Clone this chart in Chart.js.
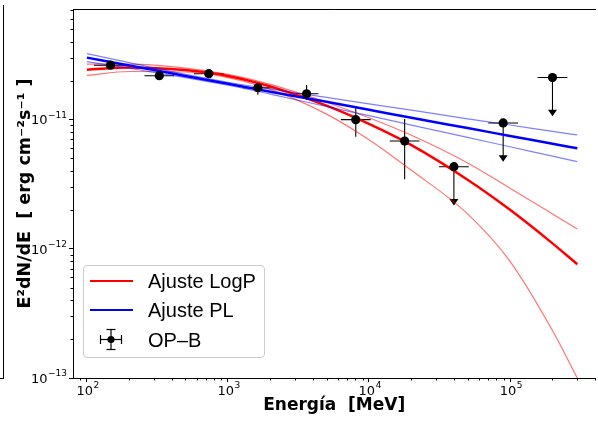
<!DOCTYPE html>
<html>
<head>
<meta charset="utf-8">
<script src="https://cdn.jsdelivr.net/npm/chart.js@4.4.1/dist/chart.umd.min.js"></script>
<style>
  html, body { margin: 0; padding: 0; background: #fff; overflow: hidden; }
  #wrap { position: relative; width: 598px; height: 423px; overflow: hidden; }
  #plot { position: absolute; left: 0; top: 0; }
  /* right spine of the neighbouring panel, cut off at the left edge */
  #edge { position: absolute; left: 3px; top: 5px; width: 1px; height: 374px; background: #000; }
  #edgeTick { position: absolute; left: 0; top: 378px; width: 3px; height: 1px; background: #000; }
  #legend {
    position: absolute; left: 83px; top: 265px; width: 182px; height: 93px;
    box-sizing: border-box; border: 1px solid #cccccc; border-radius: 4px;
    background: rgba(255,255,255,0.8);
    font-family: "Liberation Sans", Arial, sans-serif; font-size: 20px; color: #000;
  }
  #legend .sw { position: absolute; left: 6px; width: 43px; height: 2px; }
  #legend .lab { position: absolute; left: 64px; height: 24px; line-height: 24px; white-space: nowrap; }
  #legend svg { position: absolute; left: 12px; top: 60px; }
</style>
</head>
<body>
<div id="wrap">
  <canvas id="plot" width="600" height="423"></canvas>
  <div id="edge"></div><div id="edgeTick"></div>
  <div id="legend">
    <div class="sw" style="top:14px;background:#ff0000"></div>
    <div class="lab" style="top:3px">Ajuste LogP</div>
    <div class="sw" style="top:43px;background:#0000ff"></div>
    <div class="lab" style="top:32px">Ajuste PL</div>
    <svg width="30" height="27" viewBox="0 0 30 27">
      <g stroke="#000" stroke-width="1.2" fill="none">
        <line x1="4.5" y1="13.5" x2="25.5" y2="13.5"/>
        <line x1="4.5" y1="9" x2="4.5" y2="18"/>
        <line x1="25.5" y1="9" x2="25.5" y2="18"/>
        <line x1="15" y1="3.5" x2="15" y2="23.5"/>
        <line x1="10.5" y1="3.5" x2="19.5" y2="3.5"/>
        <line x1="10.5" y1="23.5" x2="19.5" y2="23.5"/>
      </g>
      <circle cx="15" cy="13.5" r="3.6" fill="#000"/>
    </svg>
    <div class="lab" style="top:62px">OP–B</div>
  </div>
</div>
<script>
var E_GRID   = [100, 200, 500, 1000, 2000, 5000, 1e4, 2e4, 5e4, 1e5, 2e5, 3e5];

// LogParabola fit and its band (erg cm^-2 s^-1)
var LOGP_FIT = [2.43e-11, 2.52e-11, 2.41e-11, 2.17e-11, 1.80e-11, 1.28e-11, 9.24e-12, 6.33e-12, 3.42e-12, 2.00e-12, 1.10e-12, 7.58e-13];
var LOGP_HI  = [2.68e-11, 2.68e-11, 2.50e-11, 2.23e-11, 1.87e-11, 1.36e-11, 1.03e-11, 7.54e-12, 4.61e-12, 2.94e-12, 1.86e-12, 1.42e-12];
var LOGP_LO  = [2.19e-11, 2.35e-11, 2.33e-11, 2.11e-11, 1.71e-11, 1.10e-11, 6.97e-12, 4.04e-12, 1.86e-12, 7.99e-13, 2.33e-13, 1.00e-13];

// power-law fit and its band
var PL_FIT   = [3.01e-11, 2.62e-11, 2.17e-11, 1.89e-11, 1.64e-11, 1.37e-11, 1.19e-11, 1.03e-11, 8.58e-12, 7.46e-12, 6.49e-12, 5.98e-12];
var PL_HI    = [3.23e-11, 2.75e-11, 2.23e-11, 1.94e-11, 1.72e-11, 1.48e-11, 1.32e-11, 1.18e-11, 1.01e-11, 9.06e-12, 8.08e-12, 7.59e-12];
var PL_LO    = [2.80e-11, 2.49e-11, 2.11e-11, 1.84e-11, 1.57e-11, 1.26e-11, 1.07e-11, 9.05e-12, 7.26e-12, 6.15e-12, 5.20e-12, 4.72e-12];

// OP-B spectral points
var SED_E      = [147, 326, 732, 1630, 3610, 8060, 17900, 40000, 89400, 200000];
var SED_E_LO   = [112, 256, 574, 1278, 2970, 6320, 14040, 31370, 70120, 156900];
var SED_E_HI   = [187, 416, 933, 2078, 4380, 10280, 22820, 51000, 114000, 255000];
var SED_FLUX   = [2.63e-11, 2.18e-11, 2.26e-11, 1.76e-11, 1.58e-11, 9.97e-12, 6.81e-12, 4.31e-12, 9.40e-12, 2.11e-11];
var SED_F_HI   = [2.76e-11, 2.29e-11, 2.37e-11, 1.93e-11, 1.85e-11, 1.25e-11, 1.01e-11, 4.31e-12, 9.40e-12, 2.11e-11];
var SED_F_LO   = [2.49e-11, 2.07e-11, 2.14e-11, 1.55e-11, 1.42e-11, 7.35e-12, 3.45e-12, 2.16e-12, 4.70e-12, 1.06e-11];
var SED_IS_UL  = [false, false, false, false, false, false, false, true, true, true];

var X_MIN = 79.7, X_MAX = 4.03e5;
var Y_MIN = 1e-13, Y_MAX = 7.13e-11;

function isPow10(v) {
    var l = Math.log10(v);
    return Math.abs(l - Math.round(l)) < 1e-6;
}
function isNice(v) {
    var m = v / Math.pow(10, Math.floor(Math.log10(v) + 1e-9));
    return Math.abs(m - Math.round(m)) < 1e-6;
}

function curve(vals) {
    return E_GRID.map(function(e, i) { return {x: e, y: vals[i]}; });
}

// error bars and upper-limit arrows, drawn under the curves
var sedErrors = {
    id: 'sedErrors',
    beforeDatasetsDraw: function(chart) {
        var ctx = chart.ctx, xs = chart.scales.x, ys = chart.scales.y, a = chart.chartArea;
        ctx.save();
        ctx.beginPath();
        ctx.rect(a.left, a.top, a.right - a.left, a.bottom - a.top);
        ctx.clip();
        ctx.strokeStyle = '#000';
        ctx.fillStyle = '#000';
        ctx.lineWidth = 1.1;
        for (var i = 0; i < SED_E.length; i++) {
            var px = xs.getPixelForValue(SED_E[i]);
            var py = ys.getPixelForValue(SED_FLUX[i]);
            ctx.beginPath();
            ctx.moveTo(xs.getPixelForValue(SED_E_LO[i]), py);
            ctx.lineTo(xs.getPixelForValue(SED_E_HI[i]), py);
            ctx.moveTo(px, ys.getPixelForValue(SED_F_HI[i]));
            var yEnd = ys.getPixelForValue(SED_F_LO[i]);
            ctx.lineTo(px, SED_IS_UL[i] ? yEnd - 4 : yEnd);
            ctx.stroke();
            if (SED_IS_UL[i]) {
                ctx.beginPath();
                ctx.moveTo(px - 4.5, yEnd - 6.5);
                ctx.lineTo(px + 4.5, yEnd - 6.5);
                ctx.lineTo(px, yEnd);
                ctx.closePath();
                ctx.fill();
            }
        }
        ctx.restore();
    }
};

// "10" with a raised exponent, like matplotlib's log labels
function drawPow(ctx, exp, x, y, align) {
    var base = '10', sup = String(exp).replace('-', '\u2212');
    ctx.font = '13px "DejaVu Sans"';
    var wb = ctx.measureText(base).width;
    ctx.font = '9px "DejaVu Sans"';
    var ws = ctx.measureText(sup).width;
    var total = wb + ws + 0.5;
    var left = align === 'center' ? x - total / 2 : x - total;
    ctx.textBaseline = 'middle';
    ctx.textAlign = 'left';
    ctx.font = '13px "DejaVu Sans"';
    ctx.fillText(base, left, y);
    ctx.font = '9px "DejaVu Sans"';
    ctx.fillText(sup, left + wb + 0.5, y - 5.5);
}

// short minor ticks plus the power-of-ten labels on both log axes
var logAxes = {
    id: 'logAxes',
    afterDraw: function(chart) {
        var ctx = chart.ctx, a = chart.chartArea;
        var xs = chart.scales.x, ys = chart.scales.y;
        ctx.save();
        ctx.strokeStyle = '#000';
        ctx.fillStyle = '#000';
        ctx.lineWidth = 1;
        ctx.beginPath();
        xs.ticks.forEach(function(t) {
            if (isNice(t.value) && !isPow10(t.value)) {
                var p = Math.round(xs.getPixelForValue(t.value)) + 0.5;
                ctx.moveTo(p, a.bottom);
                ctx.lineTo(p, a.bottom + 2.5);
            }
        });
        ys.ticks.forEach(function(t) {
            if (isNice(t.value) && !isPow10(t.value)) {
                var p = Math.round(ys.getPixelForValue(t.value)) + 0.5;
                ctx.moveTo(a.left, p);
                ctx.lineTo(a.left - 2.5, p);
            }
        });
        ctx.stroke();
        xs.ticks.forEach(function(t) {
            if (isPow10(t.value)) {
                drawPow(ctx, Math.round(Math.log10(t.value)), xs.getPixelForValue(t.value) + 1, a.bottom + 13.5, 'center');
            }
        });
        ys.ticks.forEach(function(t) {
            if (isPow10(t.value)) {
                drawPow(ctx, Math.round(Math.log10(t.value)), a.left - 6, ys.getPixelForValue(t.value) + 1.5, 'right');
            }
        });
        ctx.restore();
    }
};

var majorTickColor = function(c) {
    return c.tick && isPow10(c.tick.value) ? '#000' : 'rgba(0,0,0,0)';
};

new Chart(document.getElementById('plot'), {
    type: 'scatter',
    data: {
        datasets: [
            { data: curve(LOGP_HI), showLine: true, borderColor: 'rgba(255,0,0,0.55)', borderWidth: 1.2, pointRadius: 0, cubicInterpolationMode: 'monotone', order: 8 },
            { data: curve(LOGP_LO), showLine: true, borderColor: 'rgba(255,0,0,0.55)', borderWidth: 1.2, pointRadius: 0, cubicInterpolationMode: 'monotone', order: 7 },
            { data: curve(LOGP_FIT), showLine: true, borderColor: '#ff0000', borderWidth: 2.5, pointRadius: 0, cubicInterpolationMode: 'monotone', order: 6 },
            { data: curve(PL_HI), showLine: true, borderColor: 'rgba(0,0,255,0.5)', borderWidth: 1.2, pointRadius: 0, cubicInterpolationMode: 'monotone', order: 5 },
            { data: curve(PL_LO), showLine: true, borderColor: 'rgba(0,0,255,0.5)', borderWidth: 1.2, pointRadius: 0, cubicInterpolationMode: 'monotone', order: 4 },
            { data: curve(PL_FIT), showLine: true, borderColor: '#0000ff', borderWidth: 2.5, pointRadius: 0, cubicInterpolationMode: 'monotone', order: 3 },
            // OP-B points
            {
                data: SED_E.map(function(e, i) { return {x: e, y: SED_FLUX[i]}; }),
                pointRadius: 4.6,
                backgroundColor: '#000',
                borderColor: '#000',
                borderWidth: 0,
                order: 1
            }
        ]
    },
    options: {
        responsive: false,
        animation: false,
        layout: { padding: { top: 5, left: 0, right: 0, bottom: 0 } },
        plugins: { legend: { display: false }, tooltip: { enabled: false } },
        scales: {
            x: {
                type: 'logarithmic',
                position: 'bottom',
                min: X_MIN,
                max: X_MAX,
                afterFit: function(s) { s.height = 45; },
                grid: { drawOnChartArea: false, drawTicks: true, tickLength: 4, tickColor: majorTickColor },
                border: { display: true, color: '#000', width: 1 },
                ticks: { autoSkip: false, maxRotation: 0, padding: 2, callback: function() { return ''; } },
                title: { display: true, text: 'Energía  [MeV]', color: '#000', font: { family: 'DejaVu Sans', size: 17, weight: 'bold' }, padding: { top: 0, bottom: 7 } }
            },
            xTop: {
                type: 'logarithmic',
                position: 'top',
                min: X_MIN,
                max: X_MAX,
                afterFit: function(s) { s.height = 0; },
                grid: { display: false, drawTicks: false },
                border: { display: true, color: '#000', width: 1 },
                ticks: { display: false }
            },
            y: {
                type: 'logarithmic',
                position: 'left',
                min: Y_MIN,
                max: Y_MAX,
                afterFit: function(s) { s.width = 73; },
                grid: { drawOnChartArea: false, drawTicks: true, tickLength: 4, tickColor: majorTickColor },
                border: { display: true, color: '#000', width: 1 },
                ticks: { autoSkip: false, padding: 2, callback: function() { return ''; } },
                title: { display: true, text: 'E²dN/dE  [ erg cm⁻²s⁻¹ ]', color: '#000', font: { family: 'DejaVu Sans', size: 17.5, weight: 'bold' }, padding: { top: 15, bottom: 0 } }
            }
        }
    },
    plugins: [sedErrors, logAxes]
});
</script>
</body>
</html>
